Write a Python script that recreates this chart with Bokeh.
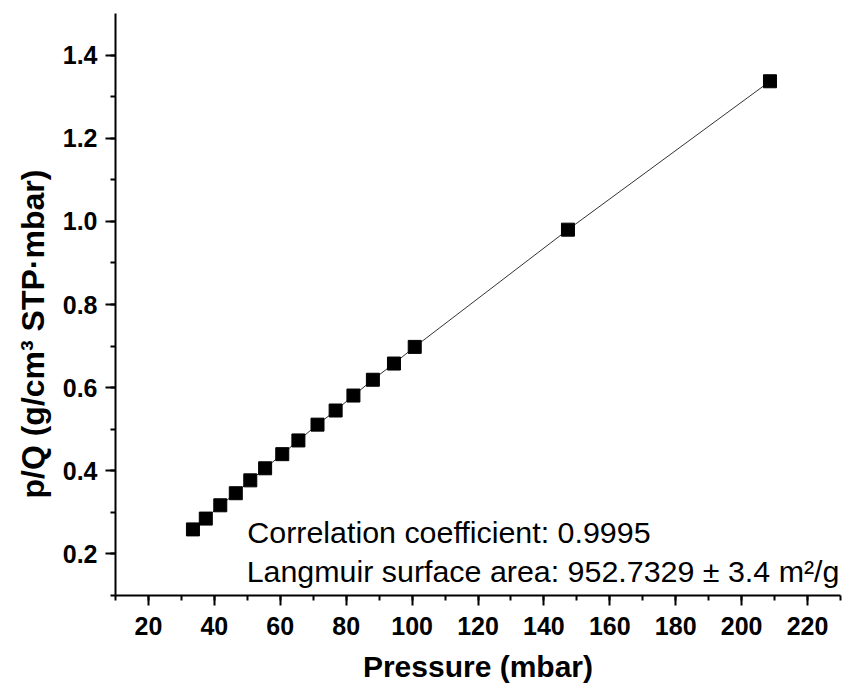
from bokeh.plotting import figure
from bokeh.models import SingleIntervalTicker, NumeralTickFormatter, Label, Range1d, Title
from bokeh.embed import file_html
from bokeh.resources import INLINE

pressure = [33.5, 37.4, 41.8, 46.5, 50.9, 55.4, 60.6, 65.5, 71.3, 76.8, 82.2, 88.1, 94.5, 100.8, 147.3, 208.6]
p_over_q = [0.259, 0.285, 0.317, 0.346, 0.377, 0.406, 0.440, 0.473, 0.511, 0.545, 0.581, 0.619, 0.658, 0.698, 0.980, 1.337]

x_label = "Pressure (mbar)"
y_label = "p/Q (g/cm³ STP·mbar)"
note_lines = ["Correlation coefficient: 0.9995", "Langmuir surface area: 952.7329 ± 3.4 m²/g"]

FONT = "Liberation Sans"

p = figure(width=842, height=691, output_backend="svg", toolbar_location=None,
           x_range=Range1d(10, 230), y_range=Range1d(0.1, 1.5),
           min_border_left=115, min_border_right=2, min_border_top=13, min_border_bottom=96)
p.outline_line_color = None
p.xgrid.visible = False
p.ygrid.visible = False
p.background_fill_color = "white"

p.line(pressure, p_over_q, line_color="#333333", line_width=1)
p.scatter(pressure, p_over_q, marker="square", size=13, fill_color="black", line_color="black")

for ax, tick in ((p.xaxis[0], SingleIntervalTicker(interval=20, num_minor_ticks=2)),
                 (p.yaxis[0], SingleIntervalTicker(interval=0.2, num_minor_ticks=2))):
    ax.ticker = tick
    ax.axis_line_width = 2
    ax.axis_line_color = "black"
    ax.major_tick_line_width = 2
    ax.minor_tick_line_width = 2
    ax.major_tick_out = 10
    ax.major_tick_in = 0
    ax.minor_tick_out = 5
    ax.minor_tick_in = 0
    ax.major_label_text_font = FONT
    ax.major_label_text_font_style = "bold"
    ax.major_label_text_font_size = "25px"
    ax.major_label_text_color = "black"

p.yaxis[0].formatter = NumeralTickFormatter(format="0.0")
p.yaxis[0].major_label_standoff = 8
p.xaxis[0].major_label_standoff = 11

p.xaxis[0].axis_label = x_label
p.xaxis[0].axis_label_text_font = FONT
p.xaxis[0].axis_label_text_font_style = "bold"
p.xaxis[0].axis_label_text_font_size = "30px"
p.xaxis[0].axis_label_text_color = "black"
p.xaxis[0].axis_label_standoff = 12

p.add_layout(Title(text=y_label, align="left", offset=97, standoff=17,
                   text_font=FONT, text_font_style="bold", text_font_size="32px",
                   text_color="black"), "left")

p.add_layout(Label(x=50.0, y=0.252, text=note_lines[0], text_align="left",
                   text_baseline="alphabetic", text_font=FONT, text_font_size="30.4px",
                   text_color="black"))
p.add_layout(Label(x=49.8, y=0.160, text=note_lines[1], text_align="left",
                   text_baseline="alphabetic", text_font=FONT, text_font_size="30.4px",
                   text_color="black"))

open("out.html", "w").write(file_html(p, INLINE))
